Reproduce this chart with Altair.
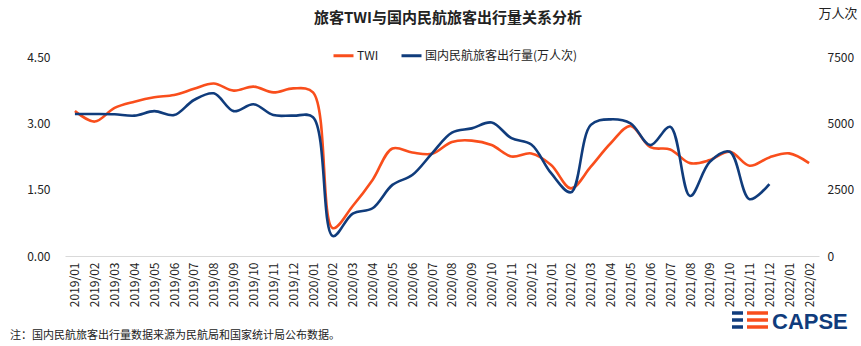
import altair as alt
import pandas as pd

months = [
    "2019/01", "2019/02", "2019/03", "2019/04", "2019/05", "2019/06", "2019/07", "2019/08",
    "2019/09", "2019/10", "2019/11", "2019/12", "2020/01", "2020/02", "2020/03", "2020/04",
    "2020/05", "2020/06", "2020/07", "2020/08", "2020/09", "2020/10", "2020/11", "2020/12",
    "2021/01", "2021/02", "2021/03", "2021/04", "2021/05", "2021/06", "2021/07", "2021/08",
    "2021/09", "2021/10", "2021/11", "2021/12", "2022/01", "2022/02",
]
twi = [
    3.28, 3.04, 3.35, 3.49, 3.59, 3.64, 3.78, 3.90, 3.74, 3.83, 3.70, 3.79,
    3.70, 0.63, 1.13, 1.72, 2.43, 2.34, 2.31, 2.58, 2.61, 2.51, 2.25, 2.32,
    2.06, 1.53, 2.02, 2.55, 2.94, 2.46, 2.41, 2.10, 2.17, 2.36, 2.04, 2.23,
    2.32, 2.10,
]
passengers = [
    5350, 5350, 5340, 5290, 5460, 5310, 5880, 6130, 5460, 5720, 5310, 5290,
    5230, 750, 1600, 1800, 2680, 3050, 3870, 4650, 4810, 5030, 4440, 4200,
    3120, 2400, 4940, 5150, 5000, 4180, 4870, 2260, 3550, 3930, 2140, 2710,
]
series_names = ["TWI", "国内民航旅客出行量(万人次)"]
left_ticks = [0, 1.5, 3, 4.5]
right_ticks = [0, 2500, 5000, 7500]
title_text = "旅客TWI与国内民航旅客出行量关系分析"
unit_text = "万人次"
note_text = "注：国内民航旅客出行量数据来源为民航局和国家统计局公布数据。"
logo_text = "CAPSE"

FONT = "Noto Sans CJK SC"
ORANGE = "#F94E1C"
BLUE = "#103C7C"
TXT = "#222222"

df_twi = pd.DataFrame({"month": months, "value": twi, "series": series_names[0]})
df_pax = pd.DataFrame({"month": months[:len(passengers)], "value": passengers,
                       "series": series_names[1]})

color = alt.Color(
    "series:N",
    scale=alt.Scale(domain=series_names, range=[ORANGE, BLUE]),
    legend=alt.Legend(
        title=None, orient="none", legendX=267, legendY=-13, direction="horizontal",
        symbolType="stroke", symbolSize=400, symbolStrokeWidth=3,
        labelFont=FONT, labelFontSize=12, labelColor=TXT, columnPadding=16, labelOffset=2,
    ),
)

x_enc = alt.X(
    "month:O", sort=months, scale=alt.Scale(type="point", padding=0.5),
    axis=alt.Axis(
        title=None, labelAngle=-90, labelFont=FONT, labelFontSize=12, labelColor=TXT,
        ticks=False, tickSize=0, domainColor="#D9D9D9", domainWidth=1, labelPadding=6, grid=False,
    ),
)

twi_line = alt.Chart(df_twi).mark_line(interpolate="catmull-rom", strokeWidth=2.6).encode(
    x=x_enc,
    y=alt.Y(
        "value:Q", scale=alt.Scale(domain=[0, 4.5], nice=False),
        axis=alt.Axis(
            title=None, orient="left", values=left_ticks, format=".2f", domain=False,
            ticks=False, tickSize=0, grid=False, labelPadding=15, labelFont=FONT,
            labelFontSize=12, labelColor=TXT,
        ),
    ),
    color=color,
)

pax_line = alt.Chart(df_pax).mark_line(interpolate="catmull-rom", strokeWidth=2.6).encode(
    x=x_enc,
    y=alt.Y(
        "value:Q", scale=alt.Scale(domain=[0, 7500], nice=False),
        axis=alt.Axis(
            title=None, orient="right", values=right_ticks, format="d", domain=False,
            ticks=False, tickSize=0, grid=False, labelPadding=8, labelFont=FONT,
            labelFontSize=12, labelColor=TXT,
        ),
    ),
    color=color,
)

one = pd.DataFrame({"k": [0]})

title_mark = alt.Chart(pd.DataFrame({"t": [title_text]})).mark_text(
    font=FONT, fontSize=15, fontWeight="bold", color=TXT, align="center", baseline="middle"
).encode(text="t:N", x=alt.value(383), y=alt.value(-39))

unit_label = alt.Chart(pd.DataFrame({"t": [unit_text]})).mark_text(
    font=FONT, fontSize=13, color=TXT, align="center", baseline="middle"
).encode(text="t:N", x=alt.value(773), y=alt.value(-43))

note = alt.Chart(pd.DataFrame({"t": [note_text]})).mark_text(
    font=FONT, fontSize=11, color=TXT, align="left", baseline="middle"
).encode(text="t:N", x=alt.value(-55), y=alt.value(279))

logo = alt.Chart(pd.DataFrame({"t": [logo_text]})).mark_text(
    font="Liberation Sans", fontSize=22, fontWeight="bold", color=BLUE, align="left",
    baseline="alphabetic",
).encode(text="t:N", x=alt.value(707), y=alt.value(272))

stripes = []
for yy in (256, 263, 270):
    stripes.append(alt.Chart(one).mark_rule(color=BLUE, strokeWidth=3.5).encode(
        x=alt.value(667), x2=alt.value(678), y=alt.value(yy)))
    stripes.append(alt.Chart(one).mark_rule(color=ORANGE, strokeWidth=3.5).encode(
        x=alt.value(682), x2=alt.value(703), y=alt.value(yy)))

chart = alt.layer(
    twi_line, pax_line, title_mark, unit_label, note, logo, *stripes
).resolve_scale(
    y="independent"
).properties(
    width=754, height=199,
    autosize=alt.AutoSizeParams(type="none"),
    padding={"left": 65, "top": 57, "right": 42, "bottom": 90},
    background="white",
).configure_view(stroke=None)

chart.save("out.html", embed_options={"renderer": "svg", "actions": False})
